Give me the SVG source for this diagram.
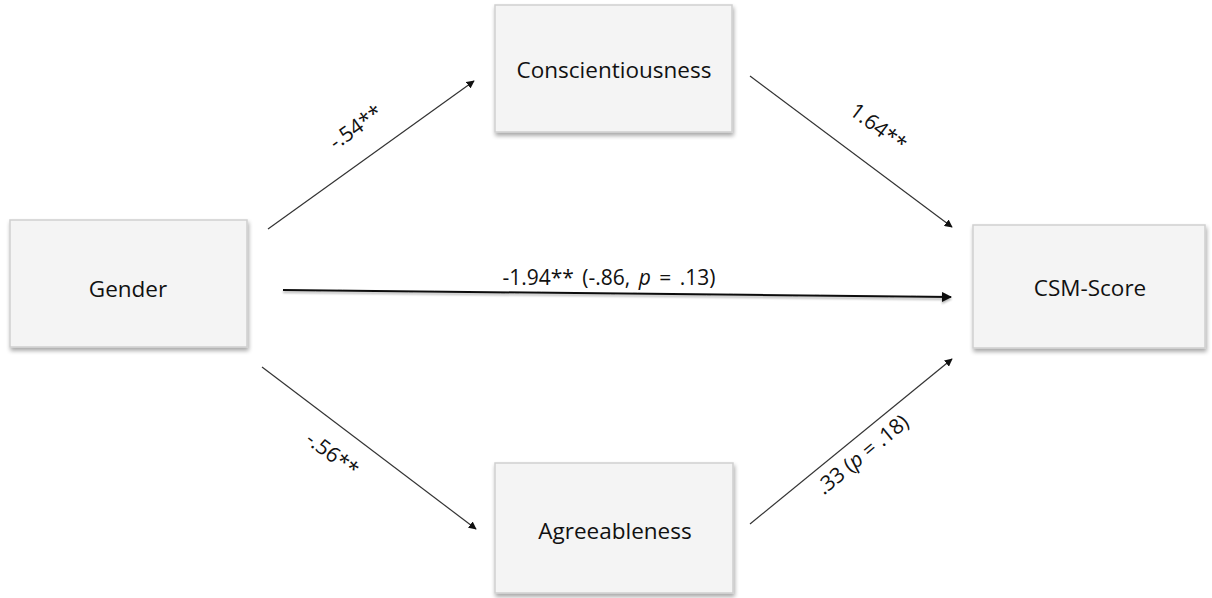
<svg xmlns="http://www.w3.org/2000/svg" width="1212" height="598" viewBox="0 0 1212 598">
<style>
.box{fill:#f4f4f4;stroke:#cfcfcf;stroke-width:1.5;filter:url(#sh)}
.lbl{font-family:"Open Sans","DejaVu Sans",sans-serif;font-size:22.5px;fill:#111;text-anchor:middle}
.edge{stroke:#333;stroke-width:1.2;fill:none;marker-end:url(#ah)}
.elbl{font-family:"Open Sans","DejaVu Sans",sans-serif;font-size:21px;fill:#111;text-anchor:middle}
</style>
<defs>
<filter id="sh" x="-10%" y="-10%" width="125%" height="130%">
<feGaussianBlur in="SourceAlpha" stdDeviation="2"/>
<feOffset dx="1" dy="3" result="b"/>
<feComponentTransfer><feFuncA type="linear" slope="0.35"/></feComponentTransfer>
<feMerge><feMergeNode/><feMergeNode in="SourceGraphic"/></feMerge>
</filter>
<filter id="lsh" x="-5%" y="-200%" width="110%" height="500%">
<feGaussianBlur in="SourceAlpha" stdDeviation="1.2"/>
<feOffset dx="0" dy="2"/>
<feComponentTransfer><feFuncA type="linear" slope="0.3"/></feComponentTransfer>
<feMerge><feMergeNode/><feMergeNode in="SourceGraphic"/></feMerge>
</filter>
<marker id="ah" viewBox="0 0 10 10" refX="9" refY="5" markerWidth="8" markerHeight="8" markerUnits="userSpaceOnUse" orient="auto">
<path d="M0,0 L10,5 L0,10 z" fill="#111"/>
</marker>
<marker id="ah2" viewBox="0 0 10 10" refX="9" refY="5" markerWidth="5" markerHeight="5" orient="auto">
<path d="M0,0 L10,5 L0,10 z" fill="#111"/>
</marker>
</defs>
<rect width="1212" height="598" fill="#fff"/>
<g id="connectors">
<line class="edge" x1="268" y1="229" x2="474" y2="81"/>
<line class="edge" x1="750" y1="76" x2="952" y2="227"/>
<line class="edge" x1="262" y1="367" x2="476" y2="529"/>
<line class="edge" x1="750" y1="524" x2="952" y2="359"/>
<line x1="283" y1="290" x2="951" y2="297" stroke="#111" stroke-width="2" marker-end="url(#ah2)" filter="url(#lsh)"/>
<text class="elbl" transform="translate(360,133) rotate(-35.6)">-.54**</text>
<text class="elbl" transform="translate(874,133) rotate(37)">1.64**</text>
<text class="elbl" transform="translate(328,460) rotate(37)">-.56**</text>
<text class="elbl" transform="translate(867,460) rotate(-39.4)">.33 (<tspan font-style="italic">p</tspan> = .18)</text>
<text class="elbl" x="609" y="285" word-spacing="3">-1.94** (-.86, <tspan font-style="italic">p</tspan> = .13)</text>
</g>
<g id="gender">
<rect class="box" x="10" y="220" width="237" height="127"/>
<text class="lbl" x="128" y="297">Gender</text>
</g>
<g id="conscientiousness">
<rect class="box" x="495" y="5" width="237" height="127"/>
<text class="lbl" x="614" y="78">Conscientiousness</text>
</g>
<g id="csm">
<rect class="box" x="973" y="225" width="232" height="123"/>
<text class="lbl" x="1090" y="296">CSM-Score</text>
</g>
<g id="agreeableness">
<rect class="box" x="495" y="463" width="238" height="130"/>
<text class="lbl" x="615" y="539">Agreeableness</text>
</g>
</svg>
